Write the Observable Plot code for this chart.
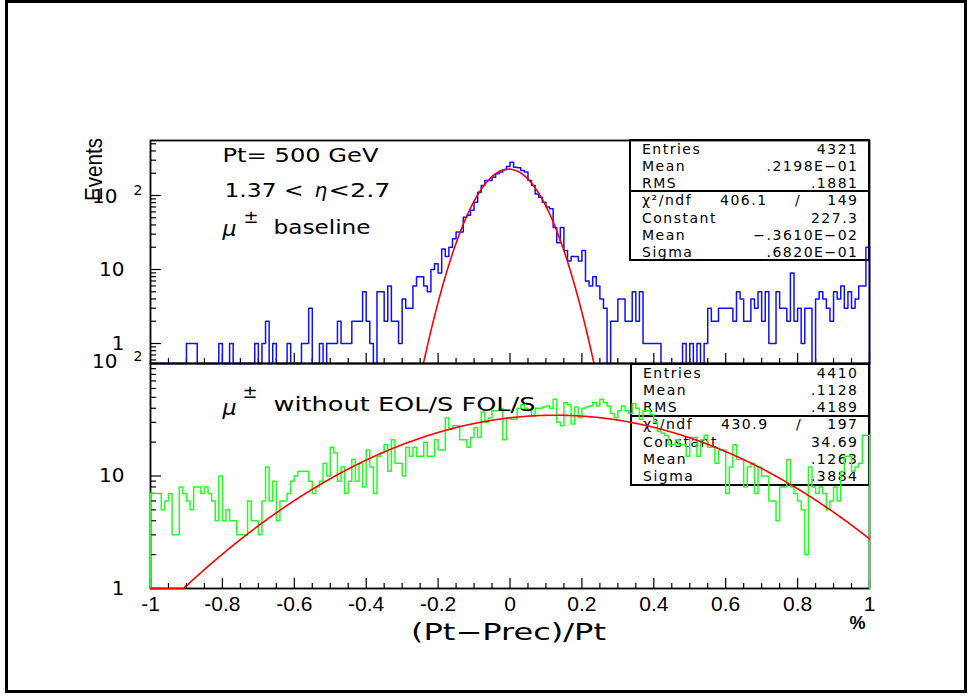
<!DOCTYPE html>
<html><head><meta charset="utf-8">
<script src="https://cdn.jsdelivr.net/npm/d3@7"></script>
<script src="https://cdn.jsdelivr.net/npm/@observablehq/plot@0.6"></script>
<style>
body{margin:0;background:#fff;}
#wrap{position:relative;width:971px;height:697px;overflow:hidden;background:#fff;}
#border{position:absolute;left:5px;top:0;width:962px;height:693px;box-sizing:border-box;border:3px solid #000;}
.stat{position:absolute;box-sizing:border-box;border:2px solid #000;}
.sep{position:absolute;height:0;border-top:2px solid #000;}
.st{position:absolute;font-family:"DejaVu Sans";font-size:14px;letter-spacing:1.5px;white-space:nowrap;line-height:14px;transform:translateY(-50%);color:#000;}
#wrap svg{position:absolute;left:0;top:0;}
</style></head>
<body><div id="wrap"></div>
<script>
// ---------------- data ----------------
const blueCounts = [
 0,0,0,0,0,0,0,0,0,0,
 1,1,1,0,0,0,0,0,0,1,
 0,0,1,0,0,0,0,0,0,1,
 0,1,2,0,1,0,0,0,1,0,
 0,0,1,1,3,0,0,1,0,1,
 1,1,2,1,1,1,2,2,2,5,
 2,1,0,5,5,2,6,2,2,1,
 4,3,3,6,8,8,6,5,10,12,
 9,19,15,20,26,32,32,51,54,63,
 81,111,137,160,160,177,197,207,222,246,
 281,241,237,218,207,160,137,105,95,81,
 70,66,37,23,37,18,13,15,15,13,
 18,7,6,8,6,4,3,0,2,2,
 4,4,2,2,5,2,5,1,1,1,
 1,1,0,0,0,0,0,0,1,0,
 1,0,1,0,1,3,2,2,3,3,
 3,3,2,5,4,2,2,4,3,5,
 2,5,1,1,5,3,3,2,9,2,
 3,1,3,3,0,4,5,4,3,2,
 5,4,6,3,5,3,4,6,6,20];
const greenCounts = [
 7,7,7,5,6,7,3,3,8,7,
 6,5,8,8,7,8,7,6,4,10,
 4,5,4,4,3,3,3,6,4,4,
 3,6,12,6,9,4,6,6,7,9,
 10,11,11,11,9,7,8,9,13,10,
 18,16,9,12,7,9,14,9,13,8,
 17,12,7,15,16,19,11,21,13,13,
 10,18,15,18,15,15,20,15,15,21,
 17,17,33,26,28,28,21,21,18,22,
 27,22,37,30,33,38,38,40,21,33,
 32,32,40,43,40,38,34,40,40,41,
 42,40,48,30,28,45,43,29,41,33,
 40,41,42,45,42,48,45,42,36,33,
 38,42,38,36,44,40,32,38,38,35,
 30,25,24,23,19,19,21,19,19,15,
 22,22,15,21,23,18,18,13,17,17,
 7,12,19,14,14,8,12,13,7,12,
 10,10,6,6,4,8,8,14,8,7,
 6,5,2,12,8,7,8,7,5,6,
 8,6,11,15,15,11,12,13,23,23];
// Gaussian fit parameters (Constant, Mean, Sigma) as printed in the stat boxes
const fitTopParams = [227.3, -0.003610, 0.06820];
const fitBotParams = [34.69, 0.1263, 0.3884];
const xRange = [-1, 1];
const xTickValues = [-1,-0.8,-0.6,-0.4,-0.2,0,0.2,0.4,0.6,0.8,1];
const xTickLabels = ["-1","-0.8","-0.6","-0.4","-0.2","0","0.2","0.4","0.6","0.8","1"];
const topYLabels = [{v:100,t:"10",sup:"2"},{v:10,t:"10"},{v:1,t:"1"}];
const botYLabels = [{v:100,t:"10",sup:"2"},{v:10,t:"10"},{v:1,t:"1"}];
const topStats = [["Entries","4321"],["Mean",".2198E\u221201"],["RMS",".1881"]];
const topFit = [["\u03c7\u00b2/ndf","406.1 / 149"],["Constant","227.3"],["Mean","\u2212.3610E\u221202"],["Sigma",".6820E\u221201"]];
const botStats = [["Entries","4410"],["Mean",".1128"],["RMS",".4189"]];
const botFit = [["\u03c7\u00b2/ndf","430.9 / 197"],["Constant","34.69"],["Mean",".1263"],["Sigma",".3884"]];

// ---------------- helpers ----------------
const W = 971, H = 697, FL = 150, FR = 869, FW = FR - FL;
const topFrame = [140, 363], botFrame = [363, 588];
const topDomain = [0.537, 553.6], botDomain = [1, 100];

function stepPoints(counts, ymin) {
  const w = (xRange[1] - xRange[0]) / counts.length;
  const pts = [{x: xRange[0], y: ymin}];
  counts.forEach((c, i) => {
    const v = Math.max(c, ymin);
    pts.push({x: xRange[0] + i * w, y: v}, {x: xRange[0] + (i + 1) * w, y: v});
  });
  pts.push({x: xRange[1], y: ymin});
  return pts;
}
// clampAll: draw values below the frame along the frame bottom (as in the lower pad)
function gaussPoints(p, ymin, clampAll) {
  const [C, m, s] = p, raw = [];
  for (let i = 0; i <= 1000; i++) {
    const x = xRange[0] + i * (xRange[1] - xRange[0]) / 1000;
    raw.push({x, y: C * Math.exp(-0.5 * ((x - m) / s) ** 2)});
  }
  if (clampAll) return raw.map(d => ({x: d.x, y: Math.max(ymin, d.y)}));
  return raw.filter((d, i) => d.y >= ymin ||
      (raw[i + 1] && raw[i + 1].y >= ymin) || (raw[i - 1] && raw[i - 1].y >= ymin))
    .map(d => ({x: d.x, y: Math.max(ymin, d.y)}));
}
function logTicks(lo, hi) {
  const maj = [], min = [];
  for (let e = -1; e <= 3; e++) for (let k = 1; k <= 9; k++) {
    const v = k * Math.pow(10, e);
    if (v >= lo * 0.999 && v <= hi * 1.001) (k === 1 ? maj : min).push(+v.toPrecision(6));
  }
  return {maj, min};
}
const xMinor = d3.range(41).map(i => +(-1 + i * 0.05).toFixed(2)).filter(v => Math.abs(Math.round(v * 5) - v * 5) > 1e-6);

function tickMarks(frame, domain) {
  const fh = frame[1] - frame[0];
  const lt = logTicks(domain[0], domain[1]);
  const st = {stroke: "#000", strokeWidth: 1.2};
  return [
    Plot.tickX(xMinor, {x: d => d, insetTop: fh - 5, ...st}),
    Plot.tickX(xTickValues, {x: d => d, insetTop: fh - 10, ...st}),
    Plot.tickY(lt.min, {y: d => d, insetRight: FW - 6, ...st}),
    Plot.tickY(lt.maj, {y: d => d, insetRight: FW - 11, ...st})
  ];
}
function yLabelMarks(labels, mainDy, supDy) {
  const font = {fontFamily: "DejaVu Sans", fill: "#000"};
  return [
    Plot.text(labels.filter(d => !d.sup), {y: "v", text: "t", frameAnchor: "left", dx: -26, textAnchor: "end", lineAnchor: "middle", fontSize: 20, ...font}),
    Plot.text(labels.filter(d => d.sup), {y: "v", text: "t", frameAnchor: "left", dx: -33, dy: mainDy, textAnchor: "end", lineAnchor: "middle", fontSize: 20, ...font}),
    Plot.text(labels.filter(d => d.sup), {y: "v", text: "sup", frameAnchor: "left", dx: -17, dy: supDy, textAnchor: "start", lineAnchor: "middle", fontSize: 14, ...font})
  ];
}
function ann(str, o) {
  return Plot.text([str], {text: d => d, frameAnchor: "top-left", textAnchor: "start", lineAnchor: "middle", fontFamily: "DejaVu Sans", fontSize: 20, fill: "#000", ...o});
}
function panel(frame, domain, marks) {
  return Plot.plot({
    width: W, height: H,
    marginLeft: FL, marginRight: W - FR, marginTop: frame[0], marginBottom: H - frame[1],
    x: {domain: xRange, axis: null},
    y: {type: "log", domain: domain, axis: null},
    style: {background: "transparent", overflow: "visible"},
    marks
  });
}
function fitText(svg, str, len, adj) {
  d3.select(svg).selectAll("text").filter(function () { return this.textContent === str; })
    .attr("textLength", len).attr("lengthAdjust", adj || "spacingAndGlyphs");
}

// ---------------- stat boxes (under the plots) ----------------
const wrap = document.getElementById("wrap");
function el(cls, style, text) {
  const d = document.createElement("div"); d.className = cls;
  Object.assign(d.style, style); if (text != null) d.textContent = text;
  wrap.appendChild(d); return d;
}
function statBox(box, rows) {
  el("stat", {left: box.l + "px", top: box.t + "px", width: (box.r - box.l) + "px", height: (box.b - box.t) + "px"});
  el("sep", {left: box.l + "px", top: (box.sep - 1) + "px", width: (box.r - box.l) + "px"});
  rows.forEach((r, i) => {
    const y = box.t + 9.5 + i * 17.3;
    el("st", {left: (box.l + 13) + "px", top: y + "px"}, r[0]);
    if (r[1].includes(" / ")) {
      const [a, b] = r[1].split(" / ");
      el("st", {left: (box.l + 91) + "px", top: y + "px"}, a);
      el("st", {left: (box.l + 166) + "px", top: y + "px"}, "/");
      el("st", {right: (W - 858.5) + "px", top: y + "px"}, b);
    } else {
      el("st", {right: (W - 858.5) + "px", top: y + "px"}, r[1]);
    }
  });
}
statBox({l: 629, t: 139, r: 870, b: 261, sep: 191}, topStats.concat(topFit));
statBox({l: 630, t: 363, r: 870, b: 486, sep: 416}, botStats.concat(botFit));

// ---------------- top panel ----------------
const topSvg = panel(topFrame, topDomain, [
  ...tickMarks(topFrame, topDomain),
  Plot.line(stepPoints(blueCounts, topDomain[0]), {x: "x", y: "y", stroke: "#0f0fff", strokeWidth: 1.5}),
  Plot.line(gaussPoints(fitTopParams, topDomain[0], false), {x: "x", y: "y", stroke: "#ff0000", strokeWidth: 1.6}),
  Plot.frame({stroke: "#000", strokeWidth: 1.8}),
  ...yLabelMarks(topYLabels, 1, -5),
  ann("Events", {dx: -56, dy: 29, rotate: -90, textAnchor: "middle", fontFamily: "Liberation Sans", fontSize: 24}),
  ann("Pt= 500 GeV", {dx: 72, dy: 15}),
  ann("1.37 <", {dx: 74, dy: 50}),
  ann("\u03b7", {dx: 164, dy: 50, fontStyle: "italic"}),
  ann("<2.7", {dx: 178, dy: 50}),
  ann("\u03bc", {dx: 72, dy: 88, fontStyle: "italic", fontSize: 22}),
  ann("\u00b1", {dx: 93, dy: 77, fontSize: 18}),
  ann("baseline", {dx: 123, dy: 87})
]);
wrap.appendChild(topSvg);
fitText(topSvg, "Events", 63);
fitText(topSvg, "Pt= 500 GeV", 156);
fitText(topSvg, "1.37 <", 79);
fitText(topSvg, "<2.7", 62);
fitText(topSvg, "baseline", 97);

// ---------------- bottom panel ----------------
const xLab = xTickValues.map((v, i) => ({v, t: xTickLabels[i]}));
const botSvg = panel(botFrame, botDomain, [
  Plot.frame({stroke: "#000", strokeWidth: 1.8}),
  ...tickMarks(botFrame, botDomain),
  Plot.line(stepPoints(greenCounts, botDomain[0]), {x: "x", y: "y", stroke: "#22ff22", strokeWidth: 1.5}),
  Plot.line(gaussPoints(fitBotParams, botDomain[0], true), {x: "x", y: "y", stroke: "#ff0000", strokeWidth: 1.6}),
  ...yLabelMarks(botYLabels, -2, -7),
  Plot.text(xLab, {x: "v", text: "t", frameAnchor: "bottom", dy: 16, textAnchor: "middle", lineAnchor: "middle", fontFamily: "Liberation Sans", fontSize: 21, fill: "#000"}),
  Plot.text(["(Pt\u2212Prec)/Pt"], {text: d => d, frameAnchor: "bottom", dx: -1.5, dy: 44, textAnchor: "middle", lineAnchor: "middle", fontFamily: "DejaVu Sans", fontSize: 23, fill: "#000"}),
  Plot.text(["%"], {text: d => d, frameAnchor: "bottom-right", dx: -12, dy: 35, textAnchor: "middle", lineAnchor: "middle", fontFamily: "Liberation Sans", fontSize: 18, fontWeight: "bold", fill: "#000"}),
  ann("\u03bc", {dx: 72, dy: 44, fontStyle: "italic", fontSize: 22}),
  ann("\u00b1", {dx: 92, dy: 29, fontSize: 18}),
  ann("without EOL/S FOL/S", {dx: 123, dy: 41})
]);
wrap.appendChild(botSvg);
fitText(botSvg, "(Pt\u2212Prec)/Pt", 195);
fitText(botSvg, "without EOL/S FOL/S", 262);

el("", {}).id = "border";
</script>
</body></html>
